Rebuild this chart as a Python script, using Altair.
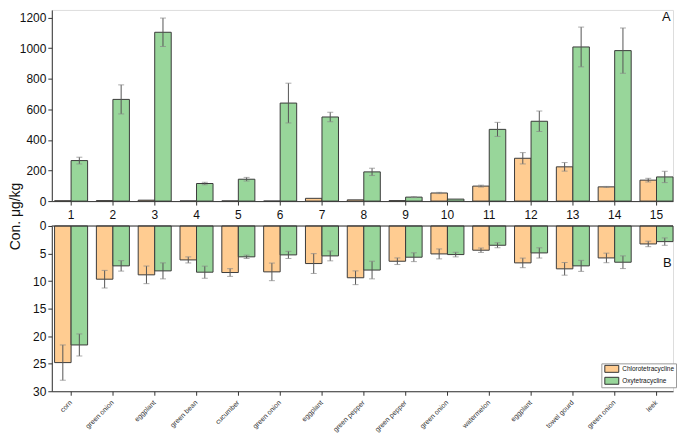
import altair as alt
import pandas as pd

idx = [str(i) for i in range(1, 16)]
names = ["corn", "green onion", "eggplant", "green bean", "cucumber", "green onion",
         "eggplant", "green pepper", "green pepper", "green onion", "watermelon",
         "eggplant", "towel gourd", "green onion", "leek"]
series = ["Chlorotetracycline", "Oxytetracycline"]
colors = ["#FFCC91", "#98D69A"]

a_chl = [2, 3, 6, 1, 1, 0, 18, 8, 3, 53, 98, 280, 224, 93, 137]
a_chl_err = [0, 0, 0, 0, 0, 0, 0, 0, 0, 4, 6, 37, 28, 3, 12]
a_oxy = [265, 665, 1104, 115, 143, 641, 550, 191, 26, 13, 469, 522, 1008, 984, 158]
a_oxy_err = [22, 95, 93, 8, 12, 130, 31, 24, 3, 0, 46, 67, 130, 148, 37]

b_chl = [24.8, 9.66, 8.87, 6.16, 8.45, 8.33, 6.82, 9.4, 6.4, 5.07, 4.4, 6.7, 7.78, 5.8, 3.26]
b_chl_err = [3.2, 1.6, 1.6, 0.55, 0.7, 1.6, 1.8, 1.25, 0.6, 0.9, 0.4, 0.87, 1.15, 0.87, 0.5]
b_oxy = [21.6, 7.24, 8.15, 8.39, 5.6, 5.25, 5.43, 8.0, 5.67, 5.19, 3.5, 4.89, 7.24, 6.58, 2.84]
b_oxy_err = [2.0, 0.95, 1.45, 1.1, 0.3, 0.65, 0.9, 1.6, 0.8, 0.42, 0.45, 0.93, 1.0, 1.15, 0.67]
a_ticks = [0, 200, 400, 600, 800, 1000, 1200]
b_ticks = [0, 5, 10, 15, 20, 25, 30]


def make_df(chl, chl_err, oxy, oxy_err):
    rows = []
    for i, k in enumerate(idx):
        for s, v, e in ((series[0], chl[i], chl_err[i]), (series[1], oxy[i], oxy_err[i])):
            rows.append({"idx": k, "series": s, "value": v, "lo": v - e, "hi": v + e, "err": e})
    return pd.DataFrame(rows)


dfa = make_df(a_chl, a_chl_err, a_oxy, a_oxy_err)
dfb = make_df(b_chl, b_chl_err, b_oxy, b_oxy_err)

W = 624
xscale = alt.Scale(paddingInner=0.21, paddingOuter=0.033, align=1)
xoff = alt.XOffset("series:N", sort=series)

label_expr = "[" + ",".join("'" + n + "'" for n in names) + "][toNumber(datum.value)-1]"

# ---------- axes ----------
xa_axis = alt.Axis(title=None, labelAngle=0, labelFontSize=12, labelColor="#111",
                   tickSize=4, labelPadding=4, domainColor="#333", tickColor="#333")
ya_axis = alt.Axis(values=a_ticks, grid=False, format="d", labelOverlap=False,
                   title="Con. μg/kg", titleFontSize=14, titleFontWeight="normal",
                   titleX=-29, titleY=207, titleColor="#111",
                   labelFontSize=12, labelColor="#111", tickSize=4, labelPadding=2,
                   domainColor="#333", tickColor="#333")
xb_axis = alt.Axis(title=None, labelExpr=label_expr, labelAngle=-45, labelAlign="right",
                   labelBaseline="middle", labelFontSize=7, labelColor="#333",
                   tickSize=4, labelPadding=6, domainColor="#333", tickColor="#333")
yb_axis = alt.Axis(values=b_ticks, grid=False, title=None, labelOverlap=False,
                   labelFontSize=12, labelColor="#111", tickSize=4, labelPadding=2,
                   domainColor="#333", tickColor="#333")

ya_scale = alt.Scale(domain=[0, 1250], nice=False)
yb_scale = alt.Scale(domain=[0, 30], reverse=True, nice=False)


def X(axis):
    return alt.X("idx:N", sort=idx, scale=xscale, axis=axis)


def Y(field, scale, axis):
    return alt.Y(field, scale=scale, axis=axis)


# ---------- Panel A ----------
base_a = alt.Chart(dfa)
bars_a = base_a.mark_bar(stroke="#3a3a3a", strokeWidth=1).encode(
    x=X(xa_axis), xOffset=xoff,
    y=Y("value:Q", ya_scale, ya_axis),
    color=alt.Color("series:N", sort=series,
                    scale=alt.Scale(domain=series, range=colors), legend=None),
)
err_a = base_a.transform_filter("datum.err > 0")
rule_a = err_a.mark_rule(color="#555", strokeWidth=1).encode(
    x=X(xa_axis), xOffset=xoff, y=Y("lo:Q", ya_scale, ya_axis), y2="hi:Q")
cap_lo_a = err_a.mark_tick(color="#888", size=6, thickness=1).encode(
    x=X(xa_axis), xOffset=xoff, y=Y("lo:Q", ya_scale, ya_axis))
cap_hi_a = err_a.mark_tick(color="#888", size=6, thickness=1).encode(
    x=X(xa_axis), xOffset=xoff, y=Y("hi:Q", ya_scale, ya_axis))
text_a = alt.Chart(pd.DataFrame({"t": ["A"]})).mark_text(
    fontSize=13, color="#111", align="left", baseline="middle").encode(
    text="t:N", x=alt.value(613), y=alt.value(7))

panel_a = alt.layer(bars_a, rule_a, cap_lo_a, cap_hi_a, text_a).properties(width=W, height=192)

# ---------- Panel B ----------
base_b = alt.Chart(dfb)
bars_b = base_b.mark_bar(stroke="#3a3a3a", strokeWidth=1).encode(
    x=X(xb_axis), xOffset=xoff,
    y=Y("value:Q", yb_scale, yb_axis),
    color=alt.Color("series:N", sort=series, scale=alt.Scale(domain=series, range=colors),
                    legend=alt.Legend(title=None, orient="none", legendX=552, legendY=138,
                                      symbolType="M-0.5,-0.875L3,-0.875L3,0.875L-0.5,0.875Z",
                                      symbolSize=64, symbolStrokeColor="#333",
                                      symbolStrokeWidth=1, labelFontSize=6.5,
                                      labelColor="#111", padding=1, rowPadding=1,
                                      labelOffset=11, strokeColor="#999", fillColor="white")),
)
zero_b = alt.Chart(pd.DataFrame({"z": [0]})).mark_rule(color="#333", strokeWidth=1).encode(
    y=Y("z:Q", yb_scale, yb_axis))
rule_b = base_b.mark_rule(color="#555", strokeWidth=1).encode(
    x=X(xb_axis), xOffset=xoff, y=Y("lo:Q", yb_scale, yb_axis), y2="hi:Q")
cap_lo_b = base_b.mark_tick(color="#888", size=6, thickness=1).encode(
    x=X(xb_axis), xOffset=xoff, y=Y("lo:Q", yb_scale, yb_axis))
cap_hi_b = base_b.mark_tick(color="#888", size=6, thickness=1).encode(
    x=X(xb_axis), xOffset=xoff, y=Y("hi:Q", yb_scale, yb_axis))
text_b = alt.Chart(pd.DataFrame({"t": ["B"]})).mark_text(
    fontSize=13, color="#111", align="left", baseline="middle").encode(
    text="t:N", x=alt.value(614), y=alt.value(37))

panel_b = alt.layer(bars_b, zero_b, rule_b, cap_lo_b, cap_hi_b, text_b).properties(width=W, height=166)

chart = alt.vconcat(panel_a, panel_b, spacing=25, bounds="flush").resolve_legend(
    color="independent").properties(padding=0).configure_view(
    stroke="transparent", strokeWidth=0).configure(font="Liberation Sans")

chart.save("out.html", embed_options={"renderer": "svg", "actions": False})
